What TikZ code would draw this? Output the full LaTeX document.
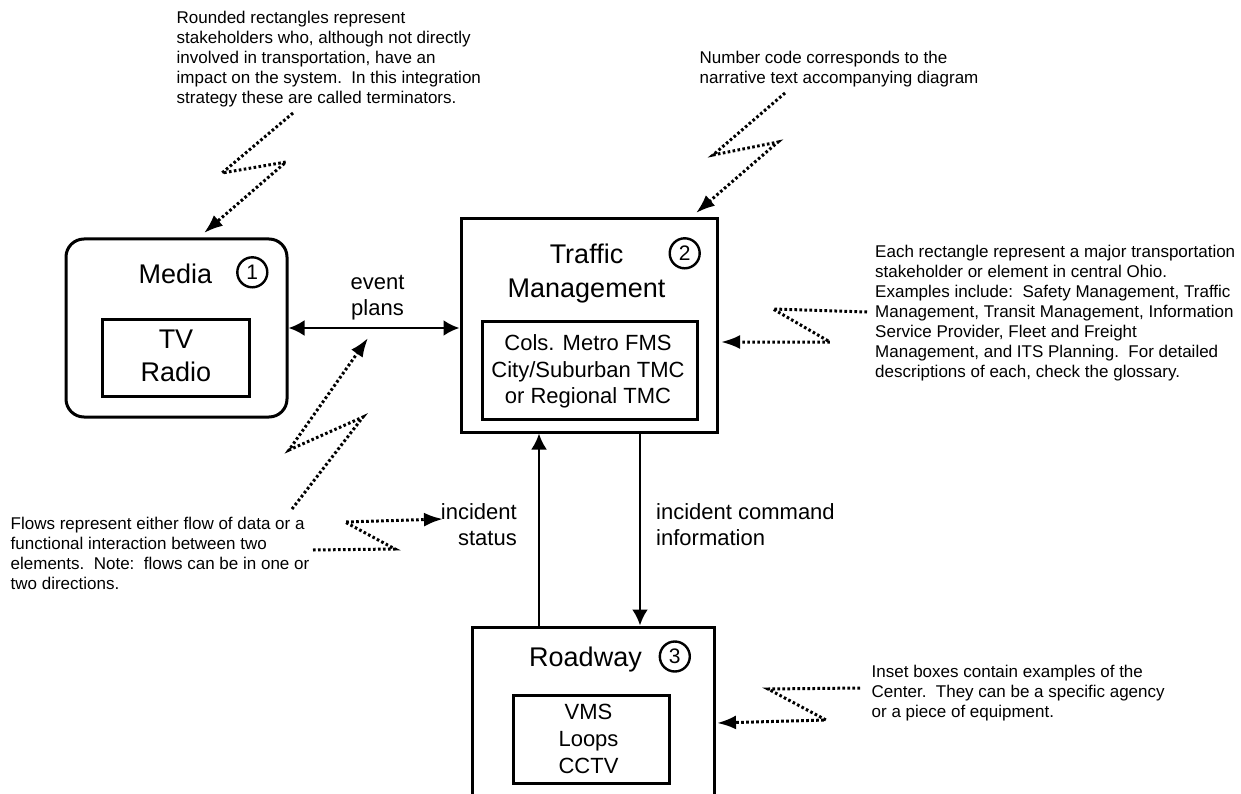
\documentclass[tikz,border=0pt]{standalone}
\usepackage{fontspec}
\setmainfont{Liberation Sans}
\usetikzlibrary{arrows.meta}
\begin{document}
\begin{tikzpicture}[x=1pt,y=-1pt,
  outerbox/.style={draw, line width=3pt, inner sep=0pt},
  innerbox/.style={draw, line width=3pt, inner sep=0pt},
  numcirc/.style={draw, circle, line width=2.4pt, minimum size=30pt, inner sep=0pt, font=\fontsize{21}{21}\selectfont},
  title/.style={font=\fontsize{27}{34}\selectfont, inner sep=0pt},
  insettext/.style={font=\fontsize{22}{26.5}\selectfont, inner sep=0pt, align=center, anchor=north},
  flowlabel/.style={font=\fontsize{22}{26.5}\selectfont, inner sep=0pt},
  note/.style={font=\fontsize{17}{20}\selectfont, inner sep=0pt, align=left, anchor=north west},
  flow/.style={line width=2.8pt, -{Latex[length=16pt,width=16pt]}},
  flowboth/.style={line width=2.8pt, {Latex[length=16pt,width=16pt]}-{Latex[length=16pt,width=16pt]}},
  hint/.style={line width=3pt, dash pattern=on 2.6pt off 2.4pt, -{Latex[length=19pt,width=14pt]}}
]
\clip (0,0) rectangle (1241,794);
\fill[white] (0,0) rectangle (1241,794);

% boxes
\node[outerbox, rounded corners=18pt, minimum width=221pt, minimum height=178pt] (media) at (176.5,328) {};
\node[outerbox, minimum width=256pt, minimum height=213pt] (tm) at (589,325.5) {};
\node[outerbox, minimum width=242pt, minimum height=184pt] (road) at (593,719) {};
\node[innerbox, minimum width=147pt, minimum height=77pt] (mediain) at (175.5,357.5) {};
\node[innerbox, minimum width=215pt, minimum height=98pt] (tmin) at (589.5,370) {};
\node[innerbox, minimum width=156pt, minimum height=88pt] (roadin) at (591,739) {};

% titles and numbers
\node[title, anchor=base] (mediat) at (175.5,283.3) {Media};
\node[numcirc] (n1) at (252.3,272.3) {1};
\node[title, anchor=north, align=center] (tmt) at (586.5,242.75) {\rule{0pt}{0.75em}Traffic\\Management};
\node[numcirc] (n2) at (684.7,253.3) {2};
\node[title, anchor=base] (roadt) at (585.5,666) {Roadway};
\node[numcirc] (n3) at (674.8,656.5) {3};

% inset texts
\node[title, anchor=north, align=center, font=\fontsize{27}{33.5}\selectfont] (tv) at (176,327.75) {\rule{0pt}{0.75em}TV\\Radio};
\node[insettext] (tmx) at (588,334.2) {\rule{0pt}{0.75em}Cols. Metro FMS\\City/Suburban TMC\\or Regional TMC};
\node[insettext, font=\fontsize{22}{27}\selectfont] (roadx) at (588.5,702.5) {\rule{0pt}{0.75em}VMS\\Loops\\CCTV};

% flow labels
\node[flowlabel, anchor=north, align=center, font=\fontsize{22}{26}\selectfont] (ep) at (377.5,272.8) {\rule{0pt}{0.75em}event\\plans};
\node[flowlabel, anchor=north east, align=right] (is) at (517,502.5) {\rule{0pt}{0.75em}incident\\status};
\node[flowlabel, anchor=north west, align=left] (ic) at (656,502.5) {\rule{0pt}{0.75em}incident command\\information};

% notes
\node[note] (note1) at (176.5,10.75) {\rule{0pt}{0.75em}Rounded rectangles represent\\stakeholders who, although not directly\\involved in transportation, have an\\impact on the system.\ \ In this integration\\strategy these are called terminators.};
\node[note] (note2) at (699.5,50.5) {\rule{0pt}{0.75em}Number code corresponds to the\\narrative text accompanying diagram};
\node[note] (note3) at (875,244.25) {\rule{0pt}{0.75em}Each rectangle represent a major transportation\\stakeholder or element in central Ohio.\\Examples include:\ \ Safety Management, Traffic\\Management, Transit Management, Information\\Service Provider, Fleet and Freight\\Management, and ITS Planning.\ \ For detailed\\descriptions of each, check the glossary.};
\node[note] (note4) at (10.5,516.25) {\rule{0pt}{0.75em}Flows represent either flow of data or a\\functional interaction between two\\elements.\ \ Note:\ \ flows can be in one or\\two directions.};
\node[note] (note5) at (871.5,664.25) {\rule{0pt}{0.75em}Inset boxes contain examples of the\\Center.\ \ They can be a specific agency\\or a piece of equipment.};

% flows
\coordinate (sx) at (539,0);
\coordinate (cx) at (640,0);
\draw[flowboth] (media.east) -- (media.east -| tm.west);
\draw[flow] (road.north -| sx) -- (tm.south -| sx);
\draw[flow] (tm.south -| cx) -- (road.north -| cx);

% hint zigzags
\coordinate (h1a) at (293,113); \coordinate (h1b) at (222,173); \coordinate (h1c) at (286,162); \coordinate (h1d) at (204,233);
\draw[hint] (h1a) -- (h1b) -- (h1c) -- (h1d);
\coordinate (h2a) at (785,93); \coordinate (h2b) at (713,155); \coordinate (h2c) at (778,142); \coordinate (h2d) at (696,213);
\draw[hint] (h2a) -- (h2b) -- (h2c) -- (h2d);
\coordinate (h3a) at (867,312); \coordinate (h3b) at (773,309); \coordinate (h3c) at (830,342); \coordinate (h3d) at (721,342);
\draw[hint] (h3a) -- (h3b) -- (h3c) -- (h3d);
\coordinate (h4a) at (292,509); \coordinate (h4b) at (363,417); \coordinate (h4c) at (289,450); \coordinate (h4d) at (368,338);
\draw[hint] (h4a) -- (h4b) -- (h4c) -- (h4d);
\coordinate (h5a) at (313,550); \coordinate (h5b) at (395,549); \coordinate (h5c) at (345,522); \coordinate (h5d) at (443,519);
\draw[hint] (h5a) -- (h5b) -- (h5c) -- (h5d);
\coordinate (h6a) at (860,688); \coordinate (h6b) at (768,689); \coordinate (h6c) at (826,720); \coordinate (h6d) at (717,723);
\draw[hint] (h6a) -- (h6b) -- (h6c) -- (h6d);
\end{tikzpicture}
\end{document}
